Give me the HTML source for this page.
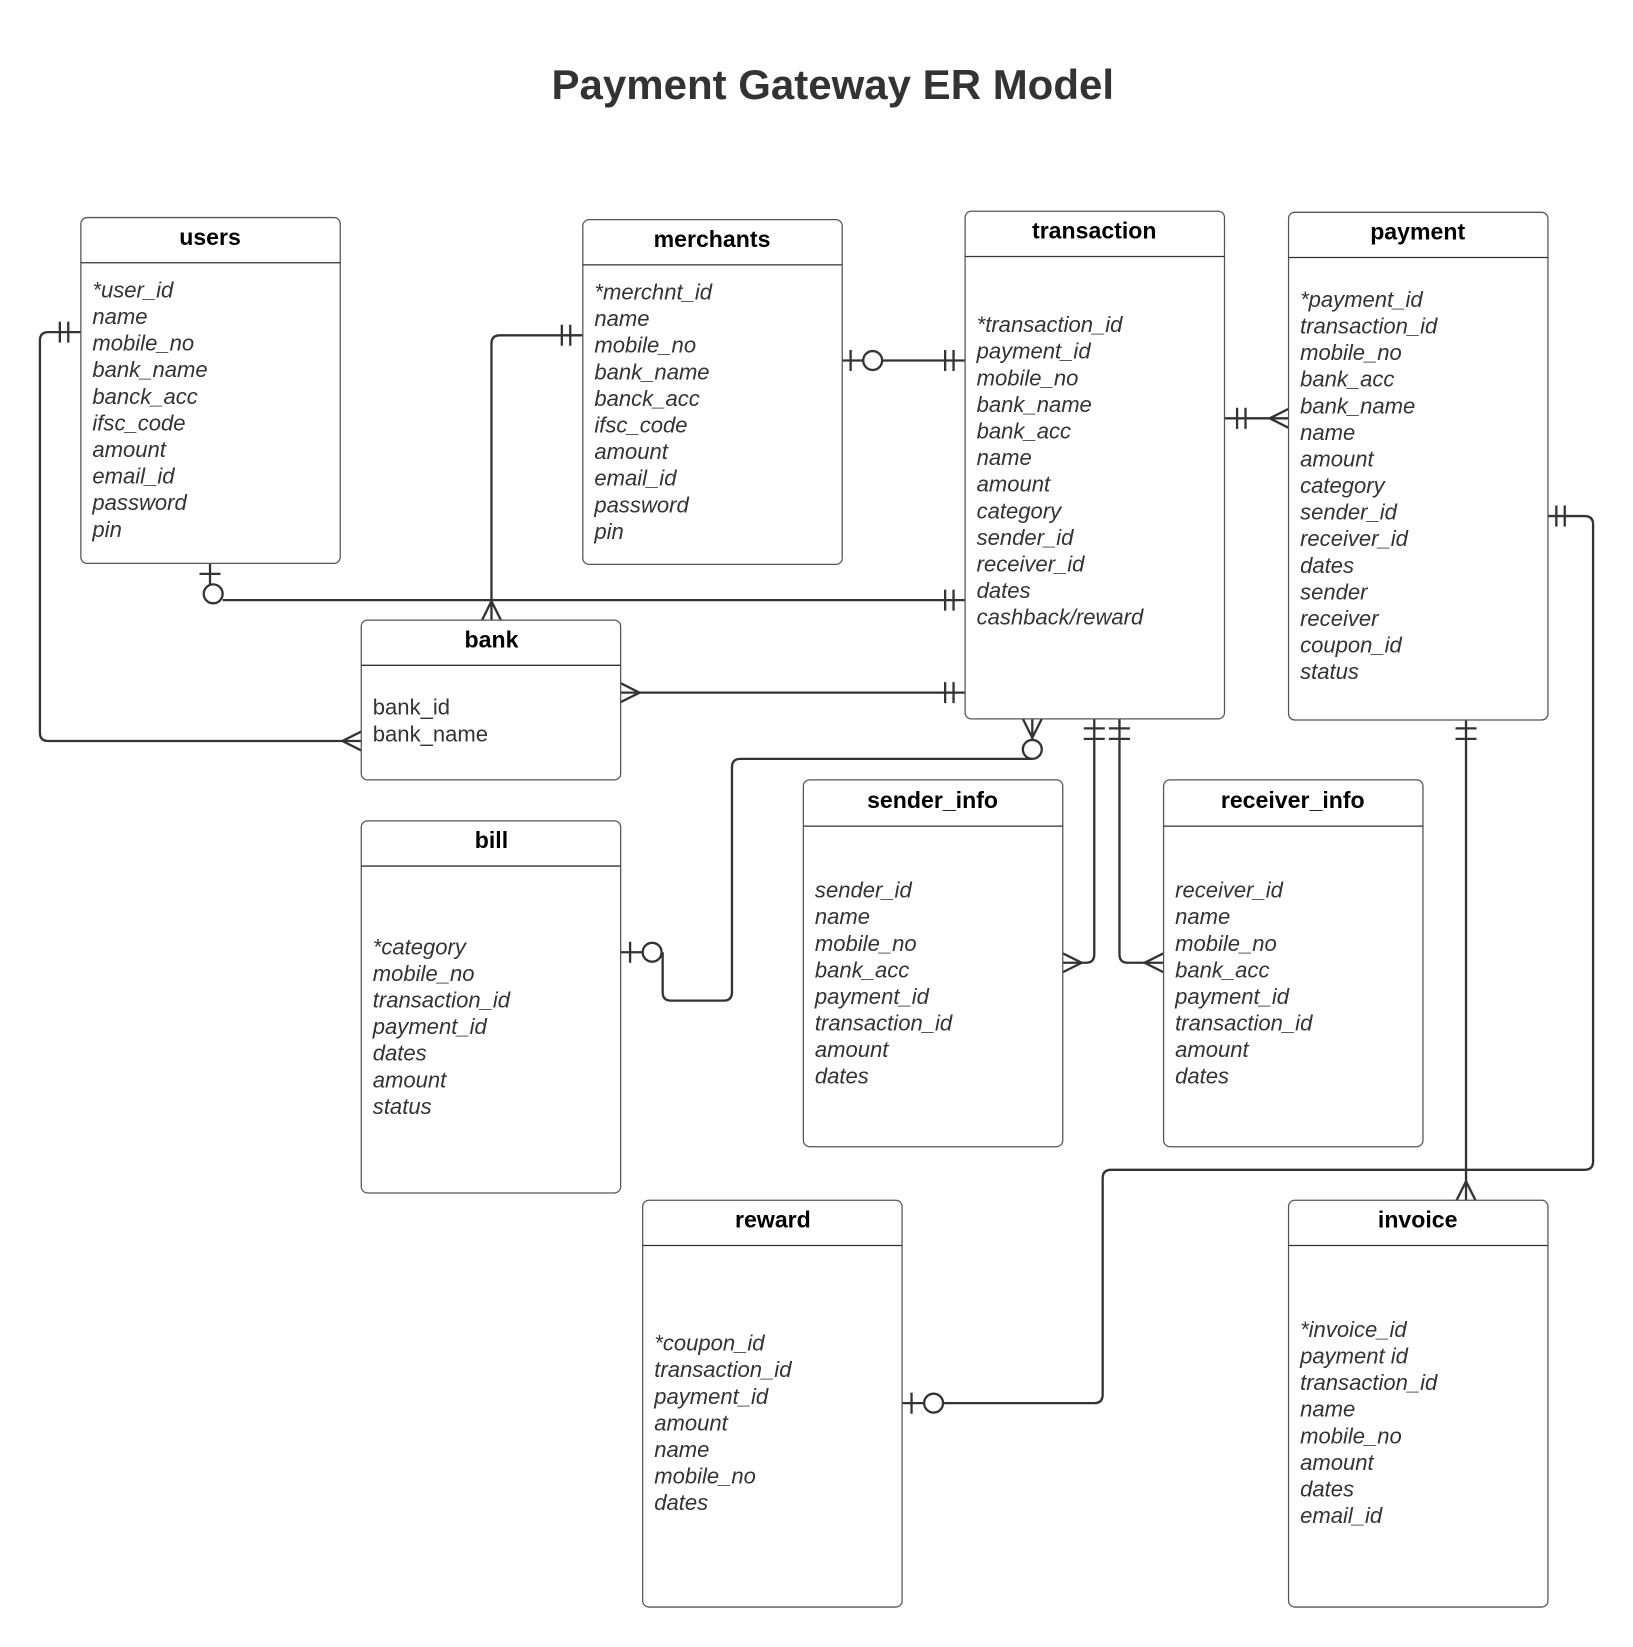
<!DOCTYPE html>
<html><head><meta charset="utf-8"><style>
html,body{margin:0;padding:0;background:#fff;}
svg{display:block;}
.b{fill:#fff;stroke:#555;stroke-width:1.2;}
.h{stroke:#333;stroke-width:1.2;}
.t{font-family:"Liberation Sans",sans-serif;font-weight:bold;font-size:22px;fill:#000;text-anchor:middle;}
.f{font-family:"Liberation Sans",sans-serif;font-style:italic;font-size:21px;fill:#333;}
.n{font-family:"Liberation Sans",sans-serif;font-size:21px;fill:#333;}
.c{fill:none;stroke:#333;stroke-width:2.2;}
.o{fill:#fff;stroke:#333;stroke-width:2.2;}
</style></head><body>
<svg width="1633" height="1647" viewBox="0 0 1555 1567" preserveAspectRatio="none" xmlns="http://www.w3.org/2000/svg">
<text x="793" y="94" style="font-family:'Liberation Sans',sans-serif;font-weight:bold;font-size:40px;fill:#333;text-anchor:middle">Payment Gateway ER Model</text>

<g class="c">
<path d="M77 316 H46 Q38 316 38 324 V697 Q38 705 46 705 H344"/>
<path d="M57 306 V326 M65 306 V326"/>
<path d="M326 705 L344 696 M326 705 L344 714"/>
<path d="M555 319 H476 Q468 319 468 327 V590"/>
<path d="M535 309 V329 M543 309 V329"/>
<path d="M468 572 L459 590 M468 572 L477 590"/>
<path d="M200 536 V556"/>
<path d="M190 546 H210"/>
<path d="M212 571 H919"/>
<path d="M900 561 V581 M908 561 V581"/>
<path d="M802 343 H822 M840 343 H919"/>
<path d="M810 333 V353"/>
<path d="M900 333 V353 M908 333 V353"/>
<path d="M1166 398 H1227"/>
<path d="M1178 388 V408 M1186 388 V408"/>
<path d="M1209 398 L1227 389 M1209 398 L1227 407"/>
<path d="M591 659 H919"/>
<path d="M591 650 L609 659 L591 668"/>
<path d="M900 649 V669 M908 649 V669"/>
<path d="M983 684 V704"/>
<path d="M974 684 L983 702 L992 684"/>
<path d="M983 722 H705 Q697 722 697 730 V944 Q697 952 689 952 H639 Q631 952 631 944 V906"/>
<path d="M591 906 H612"/>
<path d="M600 896 V916"/>
<path d="M1042 684 V908 Q1042 916 1034 916 H1012"/>
<path d="M1032 693 H1052 M1032 703 H1052"/>
<path d="M1012 907 L1030 916 L1012 925"/>
<path d="M1066 684 V908 Q1066 916 1074 916 H1108"/>
<path d="M1056 693 H1076 M1056 703 H1076"/>
<path d="M1108 907 L1090 916 L1108 925"/>
<path d="M1396 685 V1142"/>
<path d="M1386 693 H1406 M1386 703 H1406"/>
<path d="M1387 1142 L1396 1124 L1405 1142"/>
<path d="M1474 491 H1509 Q1517 491 1517 499 V1105 Q1517 1113 1509 1113 H1058 Q1050 1113 1050 1121 V1327 Q1050 1335 1042 1335 H898"/>
<path d="M1482 481 V501 M1490 481 V501"/>
<path d="M859 1335 H880"/>
<path d="M868 1325 V1345"/>
</g>
<circle class="o" cx="203" cy="565" r="9"/>
<circle class="o" cx="831" cy="343" r="9"/>
<circle class="o" cx="983" cy="713" r="9"/>
<circle class="o" cx="621" cy="906" r="9"/>
<circle class="o" cx="889" cy="1335" r="9"/>

<rect class="b" x="77" y="207" width="247" height="329" rx="6"/>
<line class="h" x1="77" y1="250" x2="324" y2="250"/>
<text class="t" x="200" y="233">users</text>
<text class="f" x="88" y="283"><tspan x="88">*user_id</tspan><tspan x="88" dy="25.3">name</tspan><tspan x="88" dy="25.3">mobile_no</tspan><tspan x="88" dy="25.3">bank_name</tspan><tspan x="88" dy="25.3">banck_acc</tspan><tspan x="88" dy="25.3">ifsc_code</tspan><tspan x="88" dy="25.3">amount</tspan><tspan x="88" dy="25.3">email_id</tspan><tspan x="88" dy="25.3">password</tspan><tspan x="88" dy="25.3">pin</tspan></text>

<rect class="b" x="555" y="209" width="247" height="328" rx="6"/>
<line class="h" x1="555" y1="252" x2="802" y2="252"/>
<text class="t" x="678" y="235">merchants</text>
<text class="f" x="566" y="285"><tspan x="566">*merchnt_id</tspan><tspan x="566" dy="25.3">name</tspan><tspan x="566" dy="25.3">mobile_no</tspan><tspan x="566" dy="25.3">bank_name</tspan><tspan x="566" dy="25.3">banck_acc</tspan><tspan x="566" dy="25.3">ifsc_code</tspan><tspan x="566" dy="25.3">amount</tspan><tspan x="566" dy="25.3">email_id</tspan><tspan x="566" dy="25.3">password</tspan><tspan x="566" dy="25.3">pin</tspan></text>

<rect class="b" x="919" y="201" width="247" height="483" rx="6"/>
<line class="h" x1="919" y1="244" x2="1166" y2="244"/>
<text class="t" x="1042" y="227">transaction</text>
<text class="f" x="930" y="316"><tspan x="930">*transaction_id</tspan><tspan x="930" dy="25.3">payment_id</tspan><tspan x="930" dy="25.3">mobile_no</tspan><tspan x="930" dy="25.3">bank_name</tspan><tspan x="930" dy="25.3">bank_acc</tspan><tspan x="930" dy="25.3">name</tspan><tspan x="930" dy="25.3">amount</tspan><tspan x="930" dy="25.3">category</tspan><tspan x="930" dy="25.3">sender_id</tspan><tspan x="930" dy="25.3">receiver_id</tspan><tspan x="930" dy="25.3">dates</tspan><tspan x="930" dy="25.3">cashback/reward</tspan></text>

<rect class="b" x="1227" y="202" width="247" height="483" rx="6"/>
<line class="h" x1="1227" y1="245" x2="1474" y2="245"/>
<text class="t" x="1350" y="228">payment</text>
<text class="f" x="1238" y="292"><tspan x="1238">*payment_id</tspan><tspan x="1238" dy="25.3">transaction_id</tspan><tspan x="1238" dy="25.3">mobile_no</tspan><tspan x="1238" dy="25.3">bank_acc</tspan><tspan x="1238" dy="25.3">bank_name</tspan><tspan x="1238" dy="25.3">name</tspan><tspan x="1238" dy="25.3">amount</tspan><tspan x="1238" dy="25.3">category</tspan><tspan x="1238" dy="25.3">sender_id</tspan><tspan x="1238" dy="25.3">receiver_id</tspan><tspan x="1238" dy="25.3">dates</tspan><tspan x="1238" dy="25.3">sender</tspan><tspan x="1238" dy="25.3">receiver</tspan><tspan x="1238" dy="25.3">coupon_id</tspan><tspan x="1238" dy="25.3">status</tspan></text>

<rect class="b" x="344" y="590" width="247" height="152" rx="6"/>
<line class="h" x1="344" y1="633" x2="591" y2="633"/>
<text class="t" x="468" y="616">bank</text>
<text class="n" x="355" y="680"><tspan x="355">bank_id</tspan><tspan x="355" dy="25.3">bank_name</tspan></text>

<rect class="b" x="344" y="781" width="247" height="354" rx="6"/>
<line class="h" x1="344" y1="824" x2="591" y2="824"/>
<text class="t" x="468" y="807">bill</text>
<text class="f" x="355" y="908"><tspan x="355">*category</tspan><tspan x="355" dy="25.3">mobile_no</tspan><tspan x="355" dy="25.3">transaction_id</tspan><tspan x="355" dy="25.3">payment_id</tspan><tspan x="355" dy="25.3">dates</tspan><tspan x="355" dy="25.3">amount</tspan><tspan x="355" dy="25.3">status</tspan></text>

<rect class="b" x="765" y="742" width="247" height="349" rx="6"/>
<line class="h" x1="765" y1="786" x2="1012" y2="786"/>
<text class="t" x="888" y="769">sender_info</text>
<text class="f" x="776" y="854"><tspan x="776">sender_id</tspan><tspan x="776" dy="25.3">name</tspan><tspan x="776" dy="25.3">mobile_no</tspan><tspan x="776" dy="25.3">bank_acc</tspan><tspan x="776" dy="25.3">payment_id</tspan><tspan x="776" dy="25.3">transaction_id</tspan><tspan x="776" dy="25.3">amount</tspan><tspan x="776" dy="25.3">dates</tspan></text>

<rect class="b" x="1108" y="742" width="247" height="349" rx="6"/>
<line class="h" x1="1108" y1="786" x2="1355" y2="786"/>
<text class="t" x="1231" y="769">receiver_info</text>
<text class="f" x="1119" y="854"><tspan x="1119">receiver_id</tspan><tspan x="1119" dy="25.3">name</tspan><tspan x="1119" dy="25.3">mobile_no</tspan><tspan x="1119" dy="25.3">bank_acc</tspan><tspan x="1119" dy="25.3">payment_id</tspan><tspan x="1119" dy="25.3">transaction_id</tspan><tspan x="1119" dy="25.3">amount</tspan><tspan x="1119" dy="25.3">dates</tspan></text>

<rect class="b" x="612" y="1142" width="247" height="387" rx="6"/>
<line class="h" x1="612" y1="1185" x2="859" y2="1185"/>
<text class="t" x="736" y="1168">reward</text>
<text class="f" x="623" y="1285"><tspan x="623">*coupon_id</tspan><tspan x="623" dy="25.3">transaction_id</tspan><tspan x="623" dy="25.3">payment_id</tspan><tspan x="623" dy="25.3">amount</tspan><tspan x="623" dy="25.3">name</tspan><tspan x="623" dy="25.3">mobile_no</tspan><tspan x="623" dy="25.3">dates</tspan></text>

<rect class="b" x="1227" y="1142" width="247" height="387" rx="6"/>
<line class="h" x1="1227" y1="1185" x2="1474" y2="1185"/>
<text class="t" x="1350" y="1168">invoice</text>
<text class="f" x="1238" y="1272"><tspan x="1238">*invoice_id</tspan><tspan x="1238" dy="25.3">payment id</tspan><tspan x="1238" dy="25.3">transaction_id</tspan><tspan x="1238" dy="25.3">name</tspan><tspan x="1238" dy="25.3">mobile_no</tspan><tspan x="1238" dy="25.3">amount</tspan><tspan x="1238" dy="25.3">dates</tspan><tspan x="1238" dy="25.3">email_id</tspan></text>
</svg>
</body></html>
